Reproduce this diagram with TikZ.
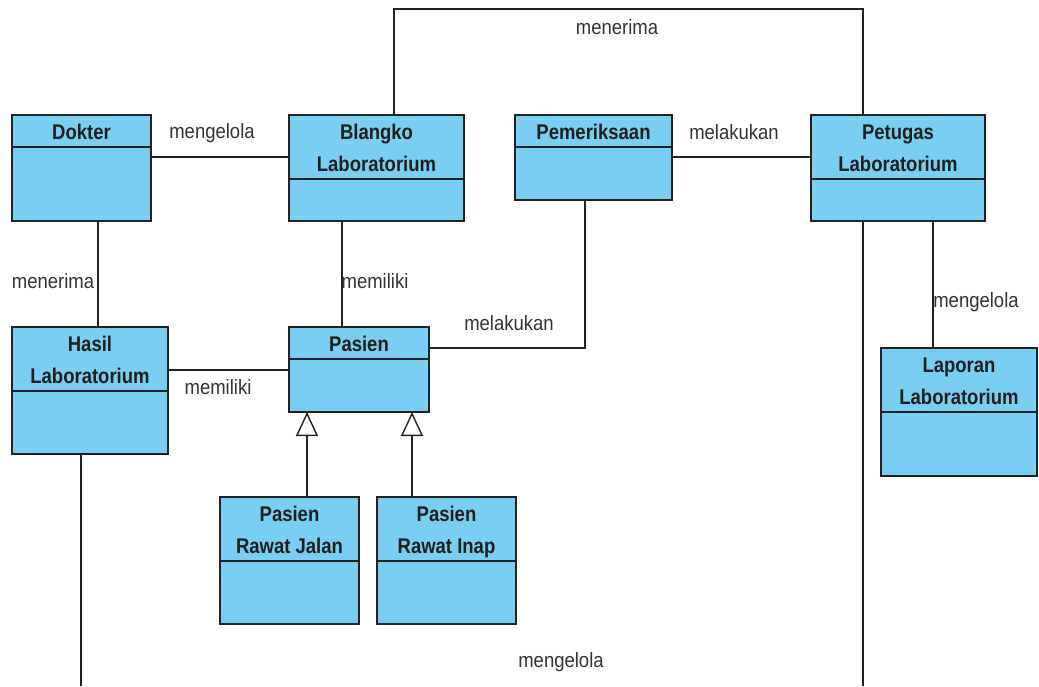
\documentclass[tikz,border=0pt]{standalone}
\usepackage{fontspec}
\setmainfont{Liberation Sans}
\usetikzlibrary{arrows.meta}
\definecolor{clsblue}{RGB}{122,206,242}
\definecolor{lnk}{RGB}{34,34,34}
\definecolor{lblgray}{RGB}{51,51,51}
\newcommand\ttlbox[1]{\scalebox{1}[1.15]{\begin{tabular}{@{}c@{}}#1\end{tabular}}}
\newcommand\lblbox[1]{\scalebox{1}[1.12]{#1}}
\tikzset{
  clsbox/.style={draw=lnk, line width=1.5pt, fill=clsblue, rectangle, inner sep=0pt, outer sep=0pt},
  divline/.style={draw=lnk, line width=1.5pt},
  ttl/.style={inner sep=0pt, font=\fontsize{18.5}{28}\selectfont\bfseries, text=black!88},
  lbl/.style={inner sep=0pt, font=\fontsize{18.5}{22}\selectfont, text=lblgray},
  assoc/.style={draw=lnk, line width=1.4pt},
  gen/.style={draw=lnk, line width=1.4pt, -{Triangle[open, length=24pt, width=22pt]}}
}
\newcommand\umlcls[7]{%
  \node[clsbox, minimum width={(#4)-(#2)}, minimum height={(#5)-(#3)}] (#1) at ({((#2)+(#4))/2},{((#3)+(#5))/2}) {};
  \draw[divline] (#1.west |- 0,#6) -- (#1.east |- 0,#6);
  \node[ttl] (#1t) at ({((#2)+(#4))/2},{((#3)+(#6))/2+2}) {\ttlbox{#7}};
}
\begin{document}
\begin{tikzpicture}[x=1pt,y=-1pt]
\useasboundingbox (0,0) rectangle (1039,686);
% classes
\umlcls{dokter}{12}{115}{151}{221}{147}{Dokter}
\umlcls{blangko}{289}{115}{464}{221}{179}{Blangko\\Laboratorium}
\umlcls{pemeriksaan}{515}{115}{672}{200}{147}{Pemeriksaan}
\umlcls{petugas}{811}{115}{985}{221}{179}{Petugas\\Laboratorium}
\umlcls{hasil}{12}{327}{168}{454}{391}{Hasil\\Laboratorium}
\umlcls{pasien}{289}{327}{429}{412}{359}{Pasien}
\umlcls{jalan}{220}{497}{359}{624}{561}{Pasien\\Rawat Jalan}
\umlcls{inap}{377}{497}{516}{624}{561}{Pasien\\Rawat Inap}
\umlcls{laporan}{881}{348}{1037}{476}{412}{Laporan\\Laboratorium}
% free ends at the bottom edge
\coordinate (hend) at (81,686);
\coordinate (pend) at (863,686);
% associations
\draw[assoc] (dokter.east |- 0,157) -- (blangko.west |- 0,157);
\draw[assoc] (blangko.north -| 394,0) -- ++(0,-106) -| (petugas.north -| 863,0);
\draw[assoc] (pemeriksaan.east |- 0,157) -- (petugas.west |- 0,157);
\draw[assoc] (dokter.south -| 98,0) -- (hasil.north -| 98,0);
\draw[assoc] (blangko.south -| 342,0) -- (pasien.north -| 342,0);
\draw[assoc] (pemeriksaan.south -| 585,0) |- (pasien.east |- 0,348);
\draw[assoc] (hasil.east |- 0,370) -- (pasien.west |- 0,370);
\draw[assoc] (petugas.south -| 933,0) -- (laporan.north -| 933,0);
\draw[assoc] (hasil.south -| 81,0) -- (hend);
\draw[assoc] (petugas.south -| 863,0) -- (pend);
% generalizations
\draw[gen] (jalan.north -| 307,0) -- (pasien.south -| 307,0);
\draw[gen] (inap.north -| 412,0) -- (pasien.south -| 412,0);
% labels
\node[lbl] (l1) at (212,133) {\lblbox{mengelola}};
\node[lbl] (l2) at (617,27) {\lblbox{menerima}};
\node[lbl] (l3) at (734,132) {\lblbox{melakukan}};
\node[lbl] (l4) at (53,281) {\lblbox{menerima}};
\node[lbl] (l5) at (375,281) {\lblbox{memiliki}};
\node[lbl] (l6) at (509,323) {\lblbox{melakukan}};
\node[lbl] (l7) at (218,387) {\lblbox{memiliki}};
\node[lbl] (l8) at (976,302) {\lblbox{mengelola}};
\node[lbl] (l9) at (561,662) {\lblbox{mengelola}};
\end{tikzpicture}
\end{document}
